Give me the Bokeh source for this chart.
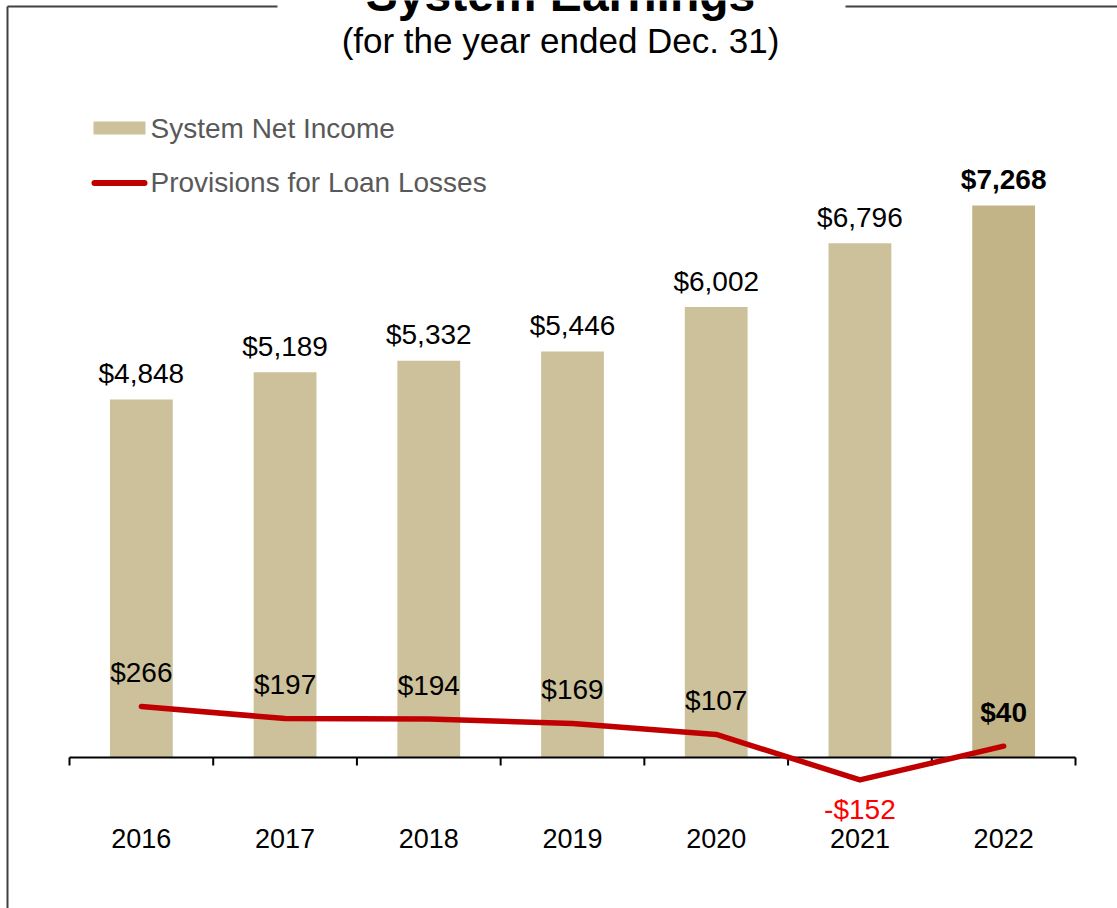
from bokeh.plotting import figure
from bokeh.models import Range1d, ColumnDataSource
from bokeh.embed import file_html
from bokeh.resources import INLINE
from bokeh.core.properties import value

# ---------------- data ----------------
years = ["2016", "2017", "2018", "2019", "2020", "2021", "2022"]
net_income = [4848, 5189, 5332, 5446, 6002, 6796, 7268]
provisions = [266, 197, 194, 169, 107, -152, 40]

title_text = "System Earnings"
subtitle_text = "(for the year ended Dec. 31)"
legend_income = "System Net Income"
legend_prov = "Provisions for Loan Losses"

# ---------------- geometry (pixels) ----------------
W, H = 1117, 908
AX_L, AX_R = 69, 1075          # category axis extent
AXIS_PX = 757                  # category axis line
BAR_ZERO_PX = 787.7            # primary (bars) zero
BAR_PX_PER = 0.08017           # px per $M (bars)
LINE_ZERO_PX = 752.7           # secondary (line) zero
LINE_PX_PER = 0.1757           # px per $M (line)

FONT = value("Liberation Sans")
TAN = "#CCC19B"
TAN_DARK = "#C3B487"
RED = "#C00000"

n = len(years)
ppu = (AX_R - AX_L) / n
x_start = -0.5 - AX_L / ppu
x_end = x_start + W / ppu
y_start = -(H - BAR_ZERO_PX) / BAR_PX_PER
y_end = y_start + H / BAR_PX_PER
y2_start = -(H - LINE_ZERO_PX) / LINE_PX_PER
y2_end = y2_start + H / LINE_PX_PER


def px_x(px):
    return x_start + px / ppu


def px_y(py):
    return y_start + (H - py) / BAR_PX_PER


p = figure(width=W, height=H,
           x_range=Range1d(x_start, x_end), y_range=Range1d(y_start, y_end),
           output_backend="svg", toolbar_location=None, min_border=0,
           x_axis_type=None, y_axis_type=None, outline_line_color=None,
           background_fill_color="white", border_fill_color="white")
p.extra_y_ranges = {"prov": Range1d(y2_start, y2_end)}
p.grid.visible = False
p.styles = {"position": "absolute", "top": "0px", "left": "0px"}

idx = list(range(n))
axis_val = px_y(AXIS_PX)

src = ColumnDataSource(dict(
    x=idx,
    year=years,
    income=net_income,
    prov=provisions,
    color=[TAN] * (n - 1) + [TAN_DARK],
    income_label=["${:,}".format(v) for v in net_income],
    income_style=["normal"] * (n - 1) + ["bold"],
    prov_label=[("-$" if v < 0 else "$") + "{:,}".format(abs(v)) for v in provisions],
    prov_style=["normal"] * (n - 1) + ["bold"],
    prov_color=["#FF0000" if v < 0 else "black" for v in provisions],
    prov_off=[30 if v < 0 else -34 for v in provisions],
))

# frame lines
border = "#404040"
p.segment(x0=[px_x(7), px_x(7), px_x(845)], x1=[px_x(7), px_x(277), px_x(W)],
          y0=[px_y(6), px_y(6), px_y(6)], y1=[px_y(H), px_y(6), px_y(6)],
          line_color=border, line_width=2)

# bars
p.vbar(x="x", top="income", bottom=axis_val, width=0.437, source=src,
       fill_color="color", line_color=None)

# category axis
p.segment(x0=[-0.5], x1=[n - 0.5], y0=[axis_val], y1=[axis_val],
          line_color="black", line_width=2)
bounds = [i - 0.5 for i in range(n + 1)]
p.segment(x0=bounds, x1=bounds, y0=[axis_val] * len(bounds),
          y1=[px_y(AXIS_PX + 8)] * len(bounds), line_color="black", line_width=2)
p.text(x="x", y=axis_val, text="year", source=src, y_offset=81,
       text_align="center", text_baseline="alphabetic", text_font=FONT,
       text_font_size="27px", text_color="black")

# provisions line
p.line(x="x", y="prov", source=src, y_range_name="prov", line_color=RED,
       line_width=5.5, line_cap="round", line_join="round")

# labels
p.text(x="x", y="income", text="income_label", source=src, y_offset=-26,
       text_align="center", text_baseline="alphabetic", text_font=FONT,
       text_font_size="28px", text_font_style="income_style", text_color="black")
p.text(x="x", y="prov", text="prov_label", source=src, y_range_name="prov",
       y_offset="prov_off", text_align="center", text_baseline="alphabetic",
       text_font=FONT, text_font_size="28px", text_font_style="prov_style",
       text_color="prov_color")

# title
p.text(x=[px_x(560)], y=[px_y(-6)], text=[title_text], text_align="center",
       text_baseline="alphabetic", text_font=FONT, text_font_size="48px",
       text_font_style="bold", text_color="black")
p.text(x=[px_x(560)], y=[px_y(40)], text=[subtitle_text], text_align="center",
       text_baseline="alphabetic", text_font=FONT, text_font_size="35px",
       text_color="black")

# legend
p.quad(left=[px_x(93)], right=[px_x(145)], top=[px_y(121)], bottom=[px_y(134)],
       fill_color=TAN, line_color=None)
p.line(x=[px_x(94), px_x(144)], y=[px_y(182.5), px_y(182.5)], line_color=RED,
       line_width=6, line_cap="round")
p.text(x=[px_x(150), px_x(150)], y=[px_y(128), px_y(182)],
       text=[legend_income, legend_prov], text_align="left",
       text_baseline="alphabetic", text_font=FONT, text_font_size="28px",
       text_color="#595959")

open("out.html", "w").write(file_html(p, INLINE))
